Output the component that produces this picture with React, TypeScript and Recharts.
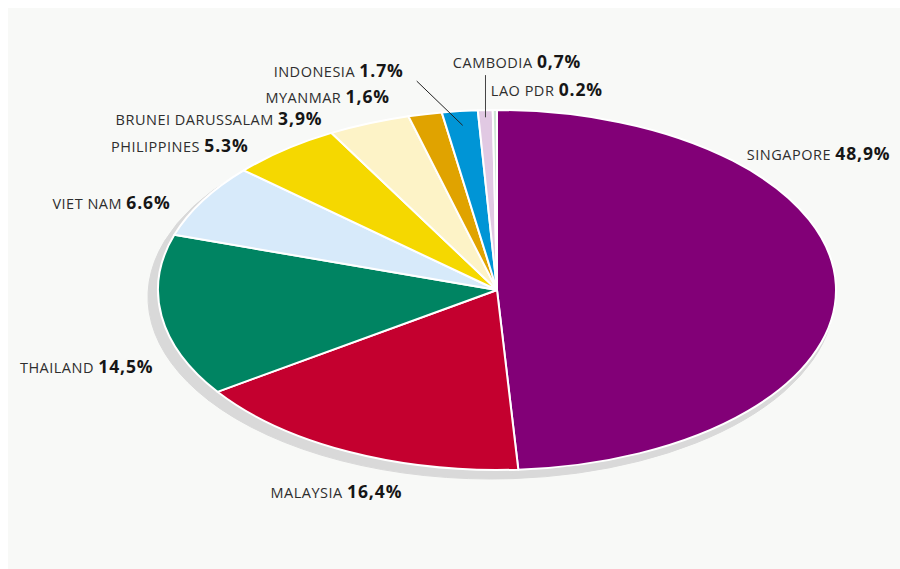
import React from 'react';
import { PieChart, Pie, Cell } from 'recharts';

if (typeof document !== 'undefined') {
  document.body.style.margin = '8px 0 0 8px';
}

// ---- data ----
const countries = [
  'SINGAPORE',
  'MALAYSIA',
  'THAILAND',
  'VIET NAM',
  'PHILIPPINES',
  'BRUNEI DARUSSALAM',
  'MYANMAR',
  'INDONESIA',
  'CAMBODIA',
  'LAO PDR',
];
const shares = [48.9, 16.4, 14.5, 6.6, 5.3, 3.9, 1.6, 1.7, 0.7, 0.2];
const shareLabels = ['48,9%', '16,4%', '14,5%', '6.6%', '5.3%', '3,9%', '1,6%', '1.7%', '0,7%', '0.2%'];

// ---- styles ----
const colors = [
  '#820077',
  '#c4002f',
  '#008462',
  '#d7eafa',
  '#f5d800',
  '#fdf3c7',
  '#e0a300',
  '#0095d6',
  '#e1c9e3',
  '#cfe7d5',
];

// label placement relative to the slice's rim point (layout only)
const labelLayout: { dx: number; dy: number; anchor: 'start' | 'end'; leader?: 'slant' | 'vertical' }[] = [
  { dx: -89, dy: -124, anchor: 'start' },
  { dx: -78, dy: 46, anchor: 'start' },
  { dx: -8, dy: 57, anchor: 'end' },
  { dx: -32, dy: 8.5, anchor: 'end' },
  { dx: -36, dy: 2.5, anchor: 'end' },
  { dx: -46.5, dy: 2, anchor: 'end' },
  { dx: -35, dy: -11, anchor: 'end' },
  { dx: -56, dy: -34, anchor: 'end', leader: 'slant' },
  { dx: 96, dy: -42, anchor: 'end', leader: 'vertical' },
  { dx: -4, dy: -14, anchor: 'start' },
];

const data = countries.map((name, i) => ({ name, value: shares[i], label: shareLabels[i] }));

const CX = 489;
const CY = 282;
const RY = 180;
const RX = 339;
const SX = RX / RY;
const RAD = Math.PI / 180;

const ellipseSector = (cx: number, cy: number, rx: number, ry: number, sa: number, ea: number) => {
  const x1 = cx + rx * Math.cos(sa * RAD);
  const y1 = cy - ry * Math.sin(sa * RAD);
  const x2 = cx + rx * Math.cos(ea * RAD);
  const y2 = cy - ry * Math.sin(ea * RAD);
  const large = Math.abs(ea - sa) > 180 ? 1 : 0;
  const sweep = ea < sa ? 1 : 0;
  return `M${cx},${cy} L${x1},${y1} A${rx},${ry} 0 ${large} ${sweep} ${x2},${y2} Z`;
};

const SliceShape = (props: any) => {
  const { cx, cy, outerRadius, startAngle, endAngle, fill } = props;
  return (
    <path
      d={ellipseSector(cx, cy, outerRadius * SX, outerRadius, startAngle, endAngle)}
      fill={fill}
      stroke="#ffffff"
      strokeWidth={2}
      strokeLinejoin="round"
    />
  );
};

const ShadowShape = (props: any) => {
  const { cx, cy, outerRadius, startAngle, endAngle } = props;
  return (
    <path
      d={ellipseSector(cx, cy, outerRadius * (343 / 182), outerRadius, startAngle, endAngle)}
      fill="#d9d9d9"
      stroke="#d9d9d9"
      strokeWidth={1}
    />
  );
};

const renderLabel = (props: any) => {
  const { cx, cy, midAngle, outerRadius, index } = props;
  const lay = labelLayout[index];
  const rx = outerRadius * SX;
  const bx = cx + rx * Math.cos(midAngle * RAD);
  const by = cy - outerRadius * Math.sin(midAngle * RAD);
  const tx = bx + lay.dx;
  const ty = by + lay.dy;
  let leader: React.ReactNode = null;
  if (lay.leader === 'slant') {
    const ex = cx + rx * 0.92 * Math.cos(midAngle * RAD);
    const ey = cy - outerRadius * 0.92 * Math.sin(midAngle * RAD);
    leader = <line x1={tx + 13} y1={ty + 4} x2={ex} y2={ey} stroke="#222" strokeWidth={1} />;
  } else if (lay.leader === 'vertical') {
    const ex = cx + rx * 0.98 * Math.cos(midAngle * RAD);
    const ey = cy - outerRadius * 0.96 * Math.sin(midAngle * RAD);
    leader = <line x1={ex} y1={ty + 7} x2={ex} y2={ey} stroke="#444" strokeWidth={1} />;
  }
  return (
    <g>
      {leader}
      <text
        x={tx}
        y={ty}
        textAnchor={lay.anchor}
        fontFamily="'Open Sans', sans-serif"
        fontSize={14.5}
      >
        <tspan fill="#2e2e2e" letterSpacing={0.5}>
          {data[index].name}{' '}
        </tspan>
        <tspan fill="#161616" fontWeight={700} fontSize={17.5} letterSpacing={0.9}>
          {data[index].label}
        </tspan>
      </text>
    </g>
  );
};

export default function App() {
  return (
    <div style={{ width: 892, height: 561, background: '#f8f9f7', overflow: 'hidden' }}>
      <PieChart width={892} height={561} margin={{ top: 0, right: 0, bottom: 0, left: 0 }}>
        <Pie
          data={data}
          dataKey="value"
          nameKey="name"
          cx={CX - 6}
          cy={CY + 7}
          outerRadius={182}
          startAngle={90}
          endAngle={-270}
          isAnimationActive={false}
          shape={ShadowShape}
          activeShape={ShadowShape}
          inactiveShape={ShadowShape}
          label={false}
          labelLine={false}
          stroke="none"
        />
        <Pie
          data={data}
          dataKey="value"
          nameKey="name"
          cx={CX}
          cy={CY}
          outerRadius={RY}
          startAngle={90}
          endAngle={-270}
          isAnimationActive={false}
          shape={SliceShape}
          activeShape={SliceShape}
          inactiveShape={SliceShape}
          label={renderLabel}
          labelLine={false}
          stroke="#ffffff"
          strokeWidth={2}
        >
          {data.map((d, i) => (
            <Cell key={d.name} fill={colors[i]} />
          ))}
        </Pie>
      </PieChart>
    </div>
  );
}
